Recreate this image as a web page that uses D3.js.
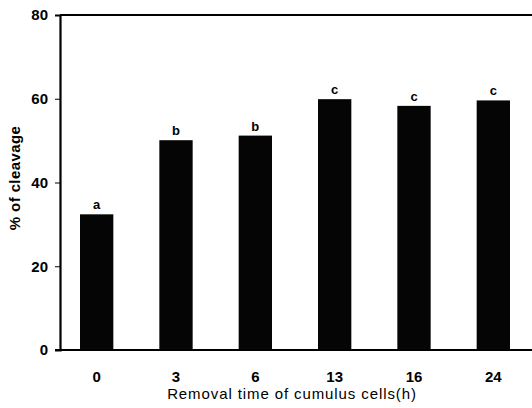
<!doctype html>
<html>
<head>
<script src="https://cdnjs.cloudflare.com/ajax/libs/d3/7.8.5/d3.min.js"></script>
<style>
body { margin: 0; background: #fff; }
text { font-family: "Liberation Sans", Arial, sans-serif; fill: #000; }
</style>
</head>
<body>
<svg id="chart" width="532" height="408"></svg>
<script>
var hours = ["0", "3", "6", "13", "16", "24"];
var cleavage = [32.4, 50.1, 51.2, 59.9, 58.3, 59.6];
var groups = ["a", "b", "b", "c", "c", "c"];
var yTicks = [0, 20, 40, 60, 80];

var svg = d3.select("#chart");
var x = d3.scaleBand().domain(hours).range([57, 533]).paddingInner(0.58).paddingOuter(0.29);
var y = d3.scaleLinear().domain([0, 80]).range([350, 15]);

// frame: top line
svg.append("line")
  .attr("x1", 60).attr("x2", 532)
  .attr("y1", y(80)).attr("y2", y(80))
  .attr("stroke", "#000").attr("stroke-width", 2);

svg.selectAll("rect.bar")
  .data(cleavage)
  .enter().append("rect")
  .attr("class", "bar")
  .attr("x", (d, i) => x(hours[i]))
  .attr("width", x.bandwidth())
  .attr("y", d => y(d))
  .attr("height", d => y(0) - y(d))
  .attr("fill", "#050505");

svg.selectAll("text.grp")
  .data(groups)
  .enter().append("text")
  .attr("class", "grp")
  .attr("x", (d, i) => x(hours[i]) + x.bandwidth() / 2)
  .attr("y", (d, i) => y(cleavage[i]) - 5)
  .attr("text-anchor", "middle")
  .style("font-size", "13px")
  .style("font-weight", "bold")
  .text(d => d);

var yAxis = svg.append("g")
  .attr("transform", "translate(60,0)")
  .call(d3.axisLeft(y).tickValues(yTicks).tickSize(5).tickPadding(7));
yAxis.select(".domain").attr("stroke-width", 2.2);
yAxis.selectAll("text").style("font-size", "15px").style("font-weight", "bold");

var xAxis = svg.append("g")
  .attr("transform", "translate(0,350)")
  .call(d3.axisBottom(x).tickSize(0).tickPadding(21));
xAxis.select(".domain").attr("d", "M55,0H532").attr("stroke-width", 2.2);
xAxis.selectAll("text").style("font-size", "15px").style("font-weight", "bold");

svg.append("text")
  .attr("x", 292).attr("y", 399)
  .attr("text-anchor", "middle")
  .style("font-size", "15px")
  .style("letter-spacing", "0.9px")
  .text("Removal time of cumulus cells(h)");

svg.append("text")
  .attr("transform", "translate(20,178) rotate(-90)")
  .attr("text-anchor", "middle")
  .style("font-size", "15px")
  .style("font-weight", "bold")
  .style("letter-spacing", "0.4px")
  .text("% of cleavage");
</script>
</body>
</html>
